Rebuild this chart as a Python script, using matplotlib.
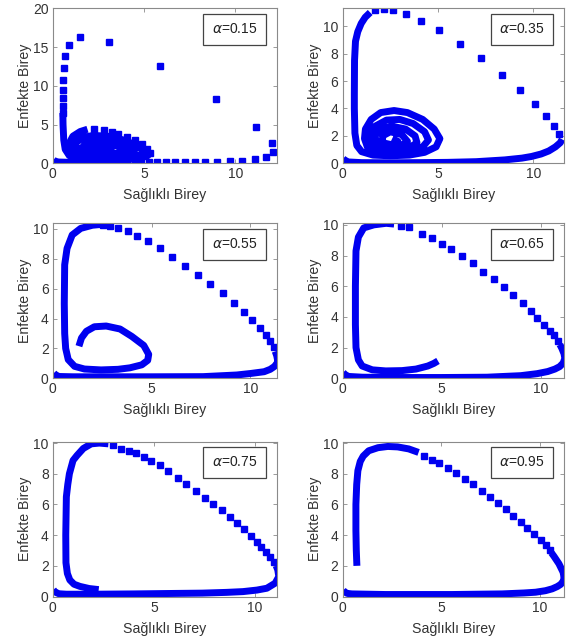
import matplotlib.pyplot as plt

plt.rcParams['font.family'] = ['Liberation Sans', 'DejaVu Sans']

# ---------------- alpha = 0.15 ----------------
a15_low_x = [0.03, 0.1, 0.3, 1.0, 2.0, 3.0, 4.0, 4.3]
a15_low_y = [0.45, 0.3, 0.17, 0.12, 0.12, 0.12, 0.13, 0.13]
a15_dot_x = [4.5, 4.85, 5.25, 5.7, 6.2, 6.7, 7.25, 7.8, 8.37, 9.0, 9.69, 10.35, 11.1, 11.67, 12.09,
             12.03, 11.13, 8.97, 5.86, 3.06, 1.5, 0.9, 0.68, 0.59, 0.55, 0.55, 0.55, 0.55, 0.55,
             5.35, 5.15, 4.87, 4.5, 4.06, 3.6, 3.24, 2.78, 2.23]
a15_dot_y = [0.13, 0.13, 0.13, 0.13, 0.13, 0.13, 0.14, 0.15, 0.17, 0.2, 0.26, 0.34, 0.5, 0.86, 1.4,
             2.6, 4.7, 8.3, 12.6, 15.7, 16.3, 15.3, 13.8, 12.3, 10.8, 9.5, 8.4, 7.4, 6.5,
             1.35, 1.9, 2.45, 2.97, 3.4, 3.8, 4.1, 4.3, 4.45]
a15_down_x = [0.55, 0.56, 0.6, 0.68, 0.9, 1.4, 2.5, 3.6, 4.6, 5.15, 5.3]
a15_down_y = [6.5, 5.0, 3.0, 1.8, 1.0, 0.5, 0.35, 0.4, 0.6, 0.9, 1.2]
a15_loop_x = [1.9, 1.5, 1.1, 0.9, 0.95, 1.3, 2.0, 3.0, 4.0, 4.8, 5.0, 4.6,
              3.9, 3.0, 2.2, 1.6, 1.25, 1.3, 1.7, 2.5, 3.5, 4.3, 4.5, 4.0, 3.2, 2.4, 1.8,
              1.6, 1.9, 2.6, 3.5, 4.0, 3.6, 2.9, 2.3, 2.0, 2.2, 2.8, 3.2, 2.9, 2.5]
a15_loop_y = [4.4, 4.1, 3.5, 2.6, 1.7, 1.0, 0.7, 0.65, 0.8, 1.1, 1.6, 2.3,
              3.0, 3.5, 3.6, 3.3, 2.6, 1.8, 1.2, 0.95, 1.0, 1.3, 1.8, 2.4, 2.9, 3.0, 2.6,
              2.0, 1.4, 1.2, 1.3, 1.7, 2.2, 2.5, 2.4, 2.0, 1.6, 1.5, 1.7, 2.0, 1.9]

# ---------------- alpha = 0.35 ----------------
a35_low_x = [0.03, 0.1, 0.3, 1.0, 2.5, 4.0, 5.5, 7.0, 8.5, 9.4, 9.9, 10.4, 10.8, 11.15, 11.4, 11.5]
a35_low_y = [0.35, 0.25, 0.1, 0.05, 0.04, 0.05, 0.07, 0.12, 0.25, 0.38, 0.5, 0.68, 0.9, 1.2, 1.5, 1.75]
a35_dot_x = [11.35, 11.1, 10.67, 10.09, 9.3, 8.35, 7.27, 6.16, 5.07, 4.12, 3.32, 2.67, 2.15, 1.71]
a35_dot_y = [2.17, 2.72, 3.47, 4.34, 5.35, 6.46, 7.66, 8.7, 9.7, 10.4, 10.9, 11.16, 11.25, 11.2]
a35_loop_x = [1.45, 1.19, 0.98, 0.8, 0.68, 0.63, 0.62, 0.62, 0.65, 0.75, 1.0, 1.6, 2.5, 3.5, 4.3,
              4.9, 5.1, 4.8, 4.2, 3.4, 2.7, 2.0, 1.5, 1.2, 1.15, 1.3, 1.8, 2.6, 3.5, 4.2,
              4.5, 4.3, 3.7, 3.0, 2.3, 1.7, 1.45, 1.5, 1.9, 2.6, 3.4, 3.9, 3.8, 3.3, 2.6,
              2.0, 1.7, 1.8, 2.3, 3.0, 3.4, 3.1, 2.5, 2.1, 2.1, 2.6, 2.9, 2.6]
a35_loop_y = [11.0, 10.65, 10.2, 9.6, 8.9, 7.5, 5.0, 4.0, 2.2, 1.3, 0.85, 0.6, 0.55, 0.6, 0.8,
              1.2, 1.8, 2.5, 3.2, 3.7, 3.85, 3.7, 3.2, 2.5, 1.8, 1.2, 0.8, 0.7, 0.85, 1.2,
              1.7, 2.3, 2.9, 3.2, 3.15, 2.7, 2.1, 1.4, 1.0, 0.9, 1.05, 1.5, 2.0, 2.5, 2.7,
              2.5, 2.0, 1.4, 1.1, 1.2, 1.6, 2.1, 2.3, 2.0, 1.5, 1.35, 1.6, 1.8]

# ---------------- alpha = 0.55 ----------------
a55_low_x = [0.05, 0.12, 0.3, 1.0, 3.0, 5.0, 7.6, 9.3, 10.0, 10.69, 11.0, 11.2, 11.35, 11.37, 11.33, 11.25]
a55_low_y = [0.35, 0.25, 0.12, 0.1, 0.1, 0.1, 0.11, 0.22, 0.32, 0.44, 0.6, 0.78, 1.0, 1.22, 1.5, 1.8]
a55_dot_x = [11.17, 11.0, 10.77, 10.48, 10.1, 9.65, 9.18, 8.59, 7.97, 7.34, 6.7, 6.05, 5.41, 4.81,
             4.26, 3.78, 3.3, 2.87, 2.55]
a55_dot_y = [2.12, 2.5, 2.9, 3.35, 3.9, 4.46, 5.06, 5.69, 6.3, 6.92, 7.54, 8.15, 8.7, 9.2,
             9.55, 9.85, 10.04, 10.2, 10.27]
a55_loop_x = [2.4, 2.0, 1.41, 0.98, 0.72, 0.6, 0.58, 0.6, 0.65, 0.78, 1.1, 1.6, 2.44, 3.3, 3.9,
              4.5, 4.8, 4.85, 4.6, 4.0, 3.4, 2.7, 2.1, 1.7, 1.45, 1.32]
a55_loop_y = [10.3, 10.25, 10.04, 9.6, 8.7, 7.6, 5.0, 3.0, 2.0, 1.25, 0.8, 0.62, 0.56, 0.6, 0.7,
              0.9, 1.2, 1.6, 2.2, 2.8, 3.3, 3.5, 3.45, 3.15, 2.7, 2.15]

# ---------------- alpha = 0.65 ----------------
a65_low_x = [0.03, 0.12, 0.3, 1.0, 3.0, 5.0, 7.28, 8.98, 9.8, 10.34, 10.7, 10.94, 11.12, 11.2, 11.16, 11.05, 10.95]
a65_low_y = [0.38, 0.25, 0.12, 0.07, 0.05, 0.05, 0.07, 0.17, 0.3, 0.44, 0.6, 0.76, 1.0, 1.3, 1.6, 1.95, 2.2]
a65_dot_x = [10.85, 10.68, 10.46, 10.17, 9.8, 9.49, 9.07, 8.61, 8.16, 7.62, 7.08, 6.55, 6.0, 5.47,
             5.0, 4.51, 4.02, 3.34, 2.94]
a65_dot_y = [2.45, 2.79, 3.1, 3.49, 3.93, 4.41, 4.91, 5.41, 5.96, 6.48, 6.94, 7.49, 7.97, 8.4,
             8.78, 9.13, 9.43, 9.83, 9.93]
a65_loop_x = [2.6, 2.2, 1.58, 1.07, 0.8, 0.68, 0.65, 0.65, 0.68, 0.8, 0.99, 1.5, 2.18, 3.0, 3.7,
              4.3, 4.6, 4.81]
a65_loop_y = [10.05, 10.1, 10.0, 9.8, 9.2, 8.3, 6.0, 3.5, 2.0, 1.2, 0.8, 0.55, 0.48, 0.5, 0.6,
              0.8, 0.97, 1.13]

# ---------------- alpha = 0.75 ----------------
a75_low_x = [0.02, 0.1, 0.3, 0.67, 2.0, 4.03, 6.0, 7.39, 8.6, 9.41, 10.1, 10.59, 11.0, 11.18, 11.13, 11.05]
a75_low_y = [0.45, 0.3, 0.18, 0.15, 0.15, 0.17, 0.2, 0.22, 0.27, 0.32, 0.42, 0.54, 0.87, 1.3, 1.73, 2.0]
a75_dot_x = [10.96, 10.76, 10.54, 10.3, 10.08, 9.78, 9.45, 9.13, 8.77, 8.37, 7.93, 7.51, 7.06, 6.6,
             6.17, 5.71, 5.29, 4.87, 4.5, 4.12, 3.78, 3.39, 2.99]
a75_dot_y = [2.27, 2.6, 2.92, 3.25, 3.55, 3.94, 4.37, 4.76, 5.15, 5.63, 6.02, 6.45, 6.86, 7.36,
             7.73, 8.18, 8.59, 8.83, 9.09, 9.35, 9.48, 9.63, 9.85]
a75_loop_x = [2.75, 2.3, 1.9, 1.51, 1.2, 1.0, 0.82, 0.74, 0.67, 0.64, 0.65, 0.72, 0.84, 1.05, 1.34,
              1.8, 2.27]
a75_loop_y = [9.95, 10.0, 9.95, 9.65, 9.2, 8.87, 8.0, 7.3, 6.5, 4.0, 2.2, 1.5, 1.08, 0.8, 0.66,
              0.52, 0.45]

# ---------------- alpha = 0.95 ----------------
a95_low_x = [0.03, 0.1, 0.25, 0.48, 2.17, 5.56, 8.1, 9.2, 9.8, 10.3, 10.64, 10.9, 11.07, 11.2, 11.24,
             11.22, 11.19, 10.98, 10.73, 10.6]
a95_low_y = [0.42, 0.3, 0.2, 0.17, 0.13, 0.13, 0.17, 0.23, 0.28, 0.38, 0.5, 0.65, 0.79, 1.0, 1.16,
             1.4, 1.59, 2.14, 2.62, 2.85]
a95_dot_x = [10.53, 10.31, 10.05, 9.71, 9.37, 9.04, 8.65, 8.28, 7.9, 7.46, 7.06, 6.61, 6.21, 5.76,
             5.34, 4.92, 4.54, 4.12]
a95_dot_y = [3.01, 3.34, 3.67, 4.06, 4.48, 4.87, 5.26, 5.68, 6.07, 6.51, 6.88, 7.31, 7.64, 8.03,
             8.36, 8.69, 8.91, 9.17]
a95_loop_x = [3.86, 3.36, 2.8, 2.3, 1.8, 1.33, 1.05, 0.9, 0.78, 0.72, 0.68, 0.68, 0.7, 0.73]
a95_loop_y = [9.39, 9.62, 9.75, 9.78, 9.7, 9.5, 9.15, 8.8, 8.2, 7.3, 6.0, 4.3, 3.0, 2.0]

labels = ['0.15', '0.35', '0.55', '0.65', '0.75', '0.95']
xlims = [12.3, 11.6, 11.35, 11.16, 11.1, 11.24]
ylims = [20, 11.3, 10.38, 10.1, 10.1, 10.1]
ysteps = [5, 2, 2, 2, 2, 2]

# dense parts (drawn as thick lines) and sparse parts (square markers) per panel
panels = [
    ([(a15_low_x, a15_low_y), (a15_down_x, a15_down_y), (a15_loop_x, a15_loop_y)], (a15_dot_x, a15_dot_y)),
    ([(a35_low_x, a35_low_y), (a35_loop_x, a35_loop_y)], (a35_dot_x, a35_dot_y)),
    ([(a55_low_x, a55_low_y), (a55_loop_x, a55_loop_y)], (a55_dot_x, a55_dot_y)),
    ([(a65_low_x, a65_low_y), (a65_loop_x, a65_loop_y)], (a65_dot_x, a65_dot_y)),
    ([(a75_low_x, a75_low_y), (a75_loop_x, a75_loop_y)], (a75_dot_x, a75_dot_y)),
    ([(a95_low_x, a95_low_y), (a95_loop_x, a95_loop_y)], (a95_dot_x, a95_dot_y)),
]

# axes rectangles in figure fractions
lefts = [0.093, 0.603]
bottoms = [0.746, 0.4117, 0.0723]
widths = [0.395, 0.390]
height = 0.241

blue = '#0000f0'
gray = '#8a8a8a'
txt = '#333333'

fig = plt.figure(figsize=(5.68, 6.43), dpi=100)

for i, (segs, (dx, dy)) in enumerate(panels):
    row, col = divmod(i, 2)
    ax = fig.add_axes([lefts[col], bottoms[row], widths[col], height])

    for sx, sy in segs:
        ax.plot(sx, sy, '-', color=blue, lw=5.0, solid_joinstyle='round', solid_capstyle='butt')
    ax.plot(dx, dy, 's', color=blue, ms=4.3, mec=blue)

    ax.set_xlim(0, xlims[i])
    ax.set_ylim(0, ylims[i])
    ax.set_xticks([0, 5, 10])
    ax.set_yticks(list(range(0, int(ylims[i]) + 1, ysteps[i])))

    for s in ax.spines.values():
        s.set_color(gray)
        s.set_linewidth(0.8)
    ax.tick_params(direction='in', length=3, width=0.6, color=gray, labelcolor=txt,
                   labelsize=10, top=True, right=True, pad=3)

    ax.set_xlabel('Sağlıklı Birey', fontsize=10.2, color=txt, labelpad=5)
    ax.set_ylabel('Enfekte Birey', fontsize=10.2, color=txt, labelpad=1)

    ax.text(0.81, 0.865, r'$\alpha$=' + labels[i], transform=ax.transAxes,
            ha='center', va='center', fontsize=10, color='#222222',
            bbox=dict(boxstyle='square,pad=0.6', fc='white', ec='#444444', lw=0.9))

fig.savefig('out.png', dpi=100)
